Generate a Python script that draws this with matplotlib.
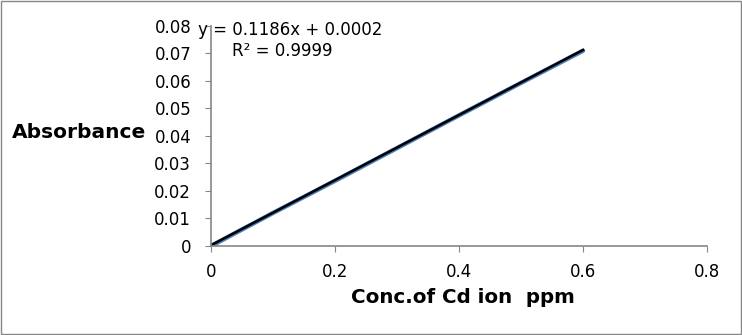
import numpy as np
import matplotlib
matplotlib.use('Agg')
import matplotlib.pyplot as plt
from matplotlib.patches import Rectangle

conc = [0.0, 0.1, 0.2, 0.3, 0.4, 0.5, 0.6]
absorbance = [0.0, 0.0120, 0.0237, 0.0356, 0.0475, 0.0593, 0.0710]
x_ticks = [0, 0.2, 0.4, 0.6, 0.8]
x_labels = ['0', '0.2', '0.4', '0.6', '0.8']
y_ticks = [0, 0.01, 0.02, 0.03, 0.04, 0.05, 0.06, 0.07, 0.08]
y_labels = ['0', '0.01', '0.02', '0.03', '0.04', '0.05', '0.06', '0.07', '0.08']

plt.rcParams['font.family'] = ['DejaVu Sans']

fig = plt.figure(figsize=(7.42, 3.35), dpi=100)
ax = fig.add_axes([0.2844, 0.2657, 0.9528 - 0.2844, 0.9224 - 0.2657])

# trendline through the data
slope, intercept = np.polyfit(conc, absorbance, 1)
fit_x = np.array([conc[0], conc[-1]])

ax.plot(conc, absorbance, color='#4a7ebb', lw=3.2, solid_capstyle='round')
ax.plot(fit_x, slope * fit_x + intercept + 0.0002, color='black', lw=1.8)

ax.set_xlim(0, 0.8)
ax.set_ylim(0, 0.08)
ax.set_xticks(x_ticks)
ax.set_xticklabels(x_labels)
ax.set_yticks(y_ticks)
ax.set_yticklabels(y_labels)
ax.tick_params(labelsize=12, color='#868686', length=4.3, direction='out')
ax.tick_params(axis='y', pad=10)
ax.tick_params(axis='x', pad=8)
for side in ['top', 'right']:
    ax.spines[side].set_visible(False)
for side in ['left', 'bottom']:
    ax.spines[side].set_color('#868686')
    ax.spines[side].set_linewidth(1.2)

ax.text(-0.0206, 0.0785, 'y = 0.1186x + 0.0002', fontsize=12, va='center', ha='left')
ax.text(0.0335, 0.0709, 'R² = 0.9999', fontsize=12, va='center', ha='left')

fig.text(0.016, 0.603, 'Absorbance', fontsize=14.5, fontweight='bold', va='center', ha='left')
fig.text(0.624, 0.113, 'Conc.of Cd ion  ppm', fontsize=14.3, fontweight='bold', va='center', ha='center')

fig.patches.append(Rectangle((0.001, 0.002), 0.997, 0.994, transform=fig.transFigure,
                             fill=False, edgecolor='#868686', lw=1))

fig.savefig('out.png', dpi=100)
